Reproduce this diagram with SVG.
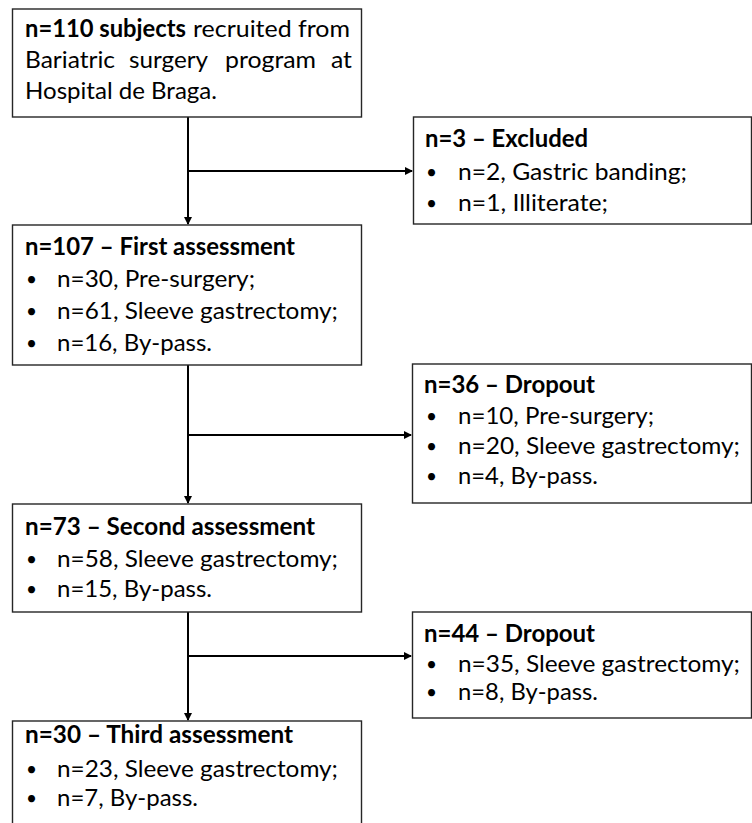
<svg xmlns="http://www.w3.org/2000/svg" width="752" height="823" viewBox="0 0 752 823">
<style>
.box{fill:#fff;stroke:#262626;stroke-width:1.4}
.t{font-family:Lato,"Liberation Sans",sans-serif;font-size:24px;fill:#000}
.b{font-weight:bold}
.d{font-family:Lato,"Liberation Sans",sans-serif;font-size:19px;fill:#000}
.c{stroke:#000;stroke-width:2;fill:none}
</style>
<defs>
<marker id="ah" markerWidth="8" markerHeight="8" refX="7" refY="4" orient="auto" markerUnits="userSpaceOnUse">
<path d="M0,0 L8,4 L0,8 z" fill="#000"/>
</marker>
</defs>
<rect width="752" height="823" fill="#fff"/>
<g id="connectors">
<line class="c" x1="188" y1="117" x2="188" y2="224" marker-end="url(#ah)"/>
<line class="c" x1="188" y1="171" x2="412" y2="171" marker-end="url(#ah)"/>
<line class="c" x1="188" y1="365" x2="188" y2="503" marker-end="url(#ah)"/>
<line class="c" x1="188" y1="435" x2="411" y2="435" marker-end="url(#ah)"/>
<line class="c" x1="188" y1="612" x2="188" y2="720" marker-end="url(#ah)"/>
<line class="c" x1="188" y1="656" x2="411" y2="656" marker-end="url(#ah)"/>
</g>
<g id="recruited">
<rect class="box" x="12.5" y="9" width="349" height="108"/>
<text class="t b" x="25" y="37" textLength="161" lengthAdjust="spacingAndGlyphs">n=110 subjects</text>
<text class="t" x="193" y="37" textLength="157" lengthAdjust="spacingAndGlyphs">recruited from</text>
<text class="t" x="25" y="68" textLength="90" lengthAdjust="spacingAndGlyphs">Bariatric</text>
<text class="t" x="129" y="68" textLength="79" lengthAdjust="spacingAndGlyphs">surgery</text>
<text class="t" x="225" y="68" textLength="91" lengthAdjust="spacingAndGlyphs">program</text>
<text class="t" x="331" y="68" textLength="21" lengthAdjust="spacingAndGlyphs">at</text>
<text class="t" x="25" y="99" textLength="192" lengthAdjust="spacingAndGlyphs">Hospital de Braga.</text>
</g>
<g id="excluded">
<rect class="box" x="413.5" y="117" width="338" height="107"/>
<text class="t b" x="425" y="147" textLength="163" lengthAdjust="spacingAndGlyphs">n=3 – Excluded</text>
<text class="d" x="426" y="179">•</text>
<text class="t" x="458" y="180" textLength="229" lengthAdjust="spacingAndGlyphs">n=2, Gastric banding;</text>
<text class="d" x="426" y="210">•</text>
<text class="t" x="458" y="211" textLength="150" lengthAdjust="spacingAndGlyphs">n=1, Illiterate;</text>
</g>
<g id="first">
<rect class="box" x="12.5" y="225" width="349" height="140"/>
<text class="t b" x="25" y="255" textLength="270" lengthAdjust="spacingAndGlyphs">n=107 – First assessment</text>
<text class="d" x="26" y="286">•</text>
<text class="t" x="57" y="287" textLength="198" lengthAdjust="spacingAndGlyphs">n=30, Pre-surgery;</text>
<text class="d" x="26" y="318">•</text>
<text class="t" x="57" y="319" textLength="281" lengthAdjust="spacingAndGlyphs">n=61, Sleeve gastrectomy;</text>
<text class="d" x="26" y="350">•</text>
<text class="t" x="57" y="351" textLength="155" lengthAdjust="spacingAndGlyphs">n=16, By-pass.</text>
</g>
<g id="dropout1">
<rect class="box" x="412.5" y="364" width="339" height="139"/>
<text class="t b" x="424" y="393" textLength="171" lengthAdjust="spacingAndGlyphs">n=36 – Dropout</text>
<text class="d" x="426" y="423">•</text>
<text class="t" x="458" y="424" textLength="196" lengthAdjust="spacingAndGlyphs">n=10, Pre-surgery;</text>
<text class="d" x="426" y="453">•</text>
<text class="t" x="458" y="454" textLength="282" lengthAdjust="spacingAndGlyphs">n=20, Sleeve gastrectomy;</text>
<text class="d" x="426" y="483">•</text>
<text class="t" x="458" y="484" textLength="140" lengthAdjust="spacingAndGlyphs">n=4, By-pass.</text>
</g>
<g id="second">
<rect class="box" x="12.5" y="504" width="349" height="108"/>
<text class="t b" x="25" y="535" textLength="290" lengthAdjust="spacingAndGlyphs">n=73 – Second assessment</text>
<text class="d" x="26" y="566">•</text>
<text class="t" x="57" y="567" textLength="281" lengthAdjust="spacingAndGlyphs">n=58, Sleeve gastrectomy;</text>
<text class="d" x="26" y="596">•</text>
<text class="t" x="57" y="597" textLength="155" lengthAdjust="spacingAndGlyphs">n=15, By-pass.</text>
</g>
<g id="dropout2">
<rect class="box" x="412.5" y="612" width="339" height="106"/>
<text class="t b" x="424" y="642" textLength="171" lengthAdjust="spacingAndGlyphs">n=44 – Dropout</text>
<text class="d" x="426" y="671">•</text>
<text class="t" x="458" y="672" textLength="282" lengthAdjust="spacingAndGlyphs">n=35, Sleeve gastrectomy;</text>
<text class="d" x="426" y="699">•</text>
<text class="t" x="458" y="700" textLength="140" lengthAdjust="spacingAndGlyphs">n=8, By-pass.</text>
</g>
<g id="third">
<rect class="box" x="12.5" y="721" width="349" height="130"/>
<text class="t b" x="25" y="743" textLength="268" lengthAdjust="spacingAndGlyphs">n=30 – Third assessment</text>
<text class="d" x="26" y="776">•</text>
<text class="t" x="57" y="777" textLength="281" lengthAdjust="spacingAndGlyphs">n=23, Sleeve gastrectomy;</text>
<text class="d" x="26" y="805">•</text>
<text class="t" x="57" y="806" textLength="141" lengthAdjust="spacingAndGlyphs">n=7, By-pass.</text>
</g>
</svg>
